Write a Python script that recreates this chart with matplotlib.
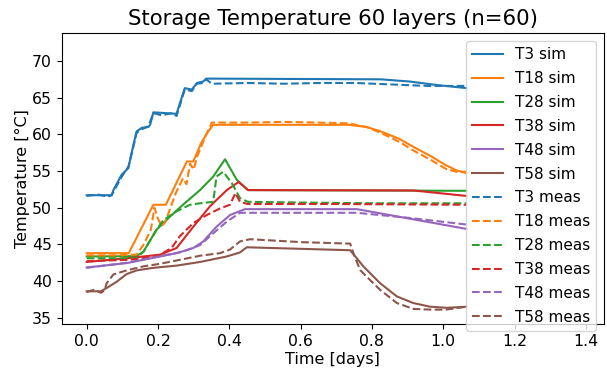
import matplotlib
matplotlib.use("Agg")
import matplotlib.pyplot as plt

# ---- simulated profiles (time in days, temperature in degC) ----
t3_sim_t = [0.0, 0.070, 0.075, 0.098, 0.117, 0.126, 0.140, 0.155, 0.173, 0.178, 0.187, 0.252, 0.275,
            0.295, 0.309, 0.327, 0.335, 0.825, 0.906, 0.986, 1.066]
t3_sim_v = [51.7, 51.7, 52.4, 54.5, 55.4, 57.5, 60.4, 60.9, 61.0, 61.3, 63.0, 62.8, 66.3,
            66.1, 67.0, 67.2, 67.6, 67.5, 67.2, 66.7, 66.3]

t18_sim_t = [0.0, 0.118, 0.187, 0.222, 0.281, 0.299, 0.321, 0.338, 0.355, 0.735, 0.785, 0.825, 0.876,
             0.916, 0.966, 1.007, 1.037, 1.066]
t18_sim_v = [43.8, 43.8, 50.4, 50.4, 56.3, 56.3, 58.8, 60.2, 61.3, 61.3, 61.0, 60.4, 59.4, 58.3,
             57.0, 55.8, 55.1, 54.7]

t28_sim_t = [0.0, 0.14, 0.159, 0.196, 0.234, 0.27, 0.318, 0.355, 0.388, 0.421, 0.452, 1.066]
t28_sim_v = [43.35, 43.4, 44.0, 47.0, 48.8, 50.4, 52.4, 54.25, 56.6, 53.8, 52.4, 52.3]

t38_sim_t = [0.0, 0.113, 0.206, 0.252, 0.299, 0.346, 0.393, 0.426, 0.453, 0.916, 0.986, 1.066]
t38_sim_v = [42.6, 43.1, 43.6, 44.5, 47.4, 50.2, 52.4, 53.5, 52.4, 52.35, 52.0, 51.6]

t48_sim_t = [0.0, 0.113, 0.206, 0.252, 0.299, 0.327, 0.364, 0.402, 0.444, 0.758, 0.906, 1.066]
t48_sim_v = [41.85, 42.45, 43.35, 43.8, 44.5, 45.4, 47.4, 49.0, 49.8, 49.8, 48.5, 47.1]

t58_sim_t = [0.0, 0.04, 0.056, 0.084, 0.112, 0.140, 0.187, 0.252, 0.318, 0.393, 0.430, 0.449, 0.739,
             0.776, 0.823, 0.870, 0.916, 0.963, 1.010, 1.066]
t58_sim_v = [38.6, 38.6, 39.05, 39.9, 40.95, 41.45, 41.8, 42.1, 42.6, 43.35, 43.9, 44.6, 44.2,
             42.0, 39.7, 37.9, 37.0, 36.5, 36.35, 36.5]

# ---- measured profiles ----
t3_meas_t = [0.0, 0.03, 0.06, 0.070, 0.08, 0.098, 0.117, 0.126, 0.140, 0.155, 0.173, 0.187, 0.21,
             0.24, 0.252, 0.275, 0.295, 0.309, 0.327, 0.335, 0.351, 0.452, 0.553, 0.654, 0.755,
             0.855, 0.956, 1.066]
t3_meas_v = [51.6, 51.8, 51.5, 51.7, 52.6, 54.2, 55.6, 57.3, 60.2, 60.7, 61.1, 62.9, 62.6,
             62.9, 62.5, 66.1, 65.9, 66.9, 67.0, 67.5, 66.9, 67.0, 66.9, 67.0, 67.0, 66.8,
             66.6, 66.6]

t18_meas_t = [0.0, 0.08, 0.14, 0.16, 0.18, 0.19, 0.20, 0.21, 0.22, 0.25, 0.27, 0.28, 0.29, 0.30,
              0.31, 0.331, 0.351, 0.452, 0.553, 0.654, 0.735, 0.785, 0.825, 0.876, 0.916, 0.966,
              1.007, 1.037, 1.066]
t18_meas_v = [43.5, 43.5, 43.6, 45.0, 47.0, 50.0, 48.5, 47.5, 48.0, 52.0, 54.0, 53.2, 56.0, 55.2,
              57.0, 59.5, 61.6, 61.6, 61.7, 61.6, 61.5, 61.0, 60.2, 59.0, 57.8, 56.5, 55.3,
              54.9, 54.9]

t28_meas_t = [0.0, 0.14, 0.159, 0.196, 0.215, 0.252, 0.290, 0.318, 0.355, 0.364, 0.383, 0.407,
              0.430, 0.452, 0.603, 0.805, 1.066]
t28_meas_v = [43.1, 43.1, 44.0, 47.0, 48.3, 49.5, 50.4, 50.6, 50.8, 54.25, 54.9, 53.35,
              51.3, 50.8, 50.7, 50.6, 50.6]

t38_meas_t = [0.0, 0.12, 0.20, 0.22, 0.238, 0.261, 0.299, 0.337, 0.374, 0.402, 0.417, 0.430,
              0.452, 0.704, 1.066]
t38_meas_v = [42.7, 42.9, 43.4, 44.0, 44.5, 46.1, 47.9, 49.0, 49.9, 50.4, 52.0, 50.8,
              50.5, 50.5, 50.4]

t48_meas_t = [0.0, 0.113, 0.206, 0.27, 0.318, 0.355, 0.393, 0.430, 0.462, 0.758, 0.906, 1.066]
t48_meas_v = [41.8, 42.5, 43.4, 44.0, 44.9, 46.5, 48.1, 49.3, 49.3, 49.3, 48.6, 47.7]

t58_meas_t = [0.0, 0.02, 0.04, 0.05, 0.056, 0.075, 0.112, 0.159, 0.206, 0.252, 0.318, 0.374,
              0.402, 0.430, 0.458, 0.603, 0.739, 0.748, 0.767, 0.785, 0.823, 0.870, 0.916, 0.966,
              1.007, 1.066]
t58_meas_v = [38.5, 38.8, 38.4, 38.7, 39.7, 40.9, 41.45, 42.0, 42.35, 42.8, 43.45, 43.8,
              44.3, 45.4, 45.7, 45.3, 45.1, 43.8, 41.5, 40.6, 38.8, 37.0, 36.2, 36.1,
              36.1, 36.5]

layers = ["T3", "T18", "T28", "T38", "T48", "T58"]
sim_series = [(t3_sim_t, t3_sim_v), (t18_sim_t, t18_sim_v), (t28_sim_t, t28_sim_v),
              (t38_sim_t, t38_sim_v), (t48_sim_t, t48_sim_v), (t58_sim_t, t58_sim_v)]
meas_series = [(t3_meas_t, t3_meas_v), (t18_meas_t, t18_meas_v), (t28_meas_t, t28_meas_v),
               (t38_meas_t, t38_meas_v), (t48_meas_t, t48_meas_v), (t58_meas_t, t58_meas_v)]
colors = ["#1f77b4", "#ff7f0e", "#2ca02c", "#d62728", "#9467bd", "#8c564b"]

fig = plt.figure(figsize=(6.07, 3.70), dpi=100)
ax = fig.add_axes([0.1017, 0.1235, 0.8934, 0.786])

for name, (t, v), c in zip(layers, sim_series, colors):
    ax.plot(t, v, color=c, lw=1.5, label=f"{name} sim")
for name, (t, v), c in zip(layers, meas_series, colors):
    ax.plot(t, v, color=c, lw=1.5, ls="--", label=f"{name} meas")

ax.set_xlim(-0.070, 1.451)
ax.set_ylim(34.1, 73.75)
ax.set_xticks([0.0, 0.2, 0.4, 0.6, 0.8, 1.0, 1.2, 1.4])
ax.set_yticks([35, 40, 45, 50, 55, 60, 65, 70])
ax.tick_params(labelsize=11.3)
ax.set_xlabel("Time [days]", fontsize=11.5, labelpad=2)
ax.set_ylabel("Temperature [°C]", fontsize=11.5, labelpad=1.5)
ax.set_title("Storage Temperature 60 layers (n=60)", fontsize=15.3)
ax.legend(loc="upper right", fontsize=11, labelspacing=0.58, handlelength=2.0)

fig.savefig("out.png", dpi=100)
